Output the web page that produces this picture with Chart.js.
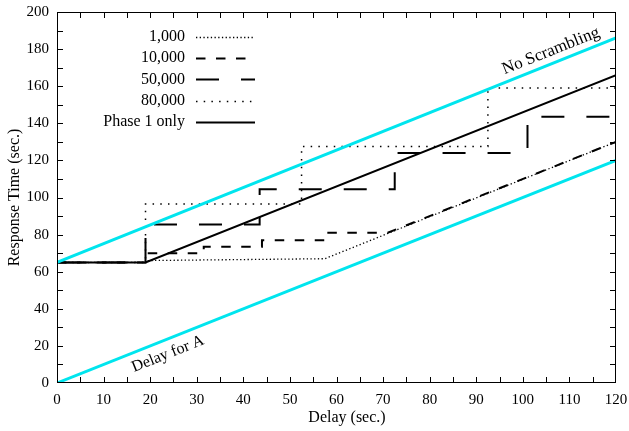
<!DOCTYPE html>
<html>
<head>
<meta charset="utf-8">
<script src="https://cdn.jsdelivr.net/npm/chart.js@4"></script>
<style>
  html, body { margin: 0; padding: 0; background: #fff; }
  #wrap { width: 629px; height: 431px; }
</style>
</head>
<body>
<div id="wrap"><canvas id="myChart" width="629" height="431"></canvas></div>
<script>
// series values
const noScrX = [0, 120];
const noScrY = [65, 186];
const delayAX = [0, 120];
const delayAY = [0, 120];
const phase1X = [0, 19, 120];
const phase1Y = [65, 65, 166];
const s1000X = [0, 19, 19, 57.5, 120];
const s1000Y = [65, 65, 66, 67, 130];
const s10000X = [0, 19, 19, 31.5, 31.5, 44, 44, 58, 58, 71, 120];
const s10000Y = [65, 65, 70, 70, 73.5, 73.5, 77, 77, 81, 81, 130];
const s50000X = [0, 19, 19, 43.5, 43.5, 72.5, 72.5, 101, 101, 120];
const s50000Y = [65, 65, 85.5, 85.5, 104.5, 104.5, 124, 124, 143.5, 143.5];
const s80000X = [0, 19, 19, 52.5, 52.5, 92.5, 92.5, 120];
const s80000Y = [65, 65, 96.5, 96.5, 127.5, 127.5, 159, 159];

const legendNames = ["1,000", "10,000", "50,000", "80,000", "Phase 1 only"];
const xTitle = "Delay (sec.)";
const yTitle = "Response Time (sec.)";

const FONT = "'Liberation Serif', 'DejaVu Serif', serif";

function pts(xs, ys) {
  return xs.map((x, i) => ({ x: x, y: ys[i] }));
}

const ctx = document.getElementById('myChart');

const datasets = [
  { label: "No Scrambling", data: pts(noScrX, noScrY), borderColor: "#00e5ee", borderWidth: 3, borderDash: [] },
  { label: "Delay for A", data: pts(delayAX, delayAY), borderColor: "#00e5ee", borderWidth: 3, borderDash: [] },
  { label: legendNames[0], data: pts(s1000X, s1000Y), borderColor: "#000", borderWidth: 1.3, borderDash: [1.3, 2.4], inLegend: true },
  { label: legendNames[1], data: pts(s10000X, s10000Y), borderColor: "#000", borderWidth: 2, borderDash: [9.5, 10.5], inLegend: true },
  { label: legendNames[2], data: pts(s50000X, s50000Y), borderColor: "#000", borderWidth: 2, borderDash: [23, 22], inLegend: true },
  { label: legendNames[3], data: pts(s80000X, s80000Y), borderColor: "#000", borderWidth: 1.5, borderDash: [1.5, 6.2], inLegend: true },
  { label: legendNames[4], data: pts(phase1X, phase1Y), borderColor: "#000", borderWidth: 2, borderDash: [], inLegend: true }
];
datasets.forEach(d => {
  d.pointRadius = 0;
  d.tension = 0;
  d.fill = false;
  d.borderCapStyle = 'butt';
});

const framePlugin = {
  id: 'frame',
  afterDraw(chart) {
    const c = chart.ctx;
    const a = chart.chartArea;
    const xs = chart.scales.x, ys = chart.scales.y;
    c.save();
    c.strokeStyle = "#000";
    c.lineWidth = 1;
    c.setLineDash([]);
    c.strokeRect(a.left + 0.5, a.top + 0.5, a.right - a.left - 1, a.bottom - a.top - 1);
    c.beginPath();
    for (let v = 5; v < 120; v += 5) {
      const px = Math.round(xs.getPixelForValue(v)) + 0.5;
      c.moveTo(px, a.bottom); c.lineTo(px, a.bottom - 6);
      c.moveTo(px, a.top); c.lineTo(px, a.top + 6);
    }
    for (let v = 10; v < 200; v += 10) {
      const py = Math.round(ys.getPixelForValue(v)) + 0.5;
      c.moveTo(a.left, py); c.lineTo(a.left + 6, py);
      c.moveTo(a.right, py); c.lineTo(a.right - 6, py);
    }
    c.stroke();

    // axis titles
    c.fillStyle = "#000";
    c.font = "16px " + FONT;
    c.textAlign = "center";
    c.textBaseline = "middle";
    c.fillText(xTitle, 347, 418);
    c.save();
    c.translate(15, (a.top + a.bottom) / 2);
    c.rotate(-Math.PI / 2);
    c.fillText(yTitle, 0, 0);
    c.restore();

    // line labels, rotated along the slope of the cyan lines
    const ang = Math.atan2(ys.getPixelForValue(0) - ys.getPixelForValue(1),
                           xs.getPixelForValue(1) - xs.getPixelForValue(0));
    c.save();
    c.translate(551, 51);
    c.rotate(-ang);
    c.font = "17px " + FONT;
    c.fillText("No Scrambling", 0, 0);
    c.restore();
    c.save();
    c.translate(168, 354);
    c.rotate(-ang);
    c.fillText("Delay for A", 0, 0);
    c.restore();

    // legend, gnuplot style: text then line sample
    let row = 0;
    chart.data.datasets.forEach(d => {
      if (!d.inLegend) return;
      const y = 37 + row * 21.2;
      c.textAlign = "right";
      c.fillText(d.label, 185, y);
      c.beginPath();
      c.strokeStyle = d.borderColor;
      c.lineWidth = d.borderWidth;
      c.setLineDash(d.borderDash);
      c.moveTo(196, Math.round(y) + 0.5);
      c.lineTo(255, Math.round(y) + 0.5);
      c.stroke();
      row++;
    });
    c.restore();
  }
};

new Chart(ctx, {
  type: "line",
  data: { datasets: datasets },
  options: {
    responsive: false,
    animation: false,
    layout: { padding: { top: 12, right: 13, left: 0, bottom: 0 } },
    plugins: {
      legend: { display: false },
      tooltip: { enabled: false }
    },
    scales: {
      x: {
        type: "linear",
        min: 0,
        max: 120,
        ticks: { stepSize: 10, color: "#000", font: { family: FONT, size: 15 }, padding: 0, maxRotation: 0 },
        grid: { display: false },
        border: { display: false },
        afterFit(scale) { scale.height = 48; }
      },
      y: {
        min: 0,
        max: 200,
        ticks: { stepSize: 20, color: "#000", font: { family: FONT, size: 15 }, padding: 0 },
        grid: { display: false },
        border: { display: false },
        afterFit(scale) { scale.width = 57; }
      }
    }
  },
  plugins: [framePlugin]
});
</script>
</body>
</html>
